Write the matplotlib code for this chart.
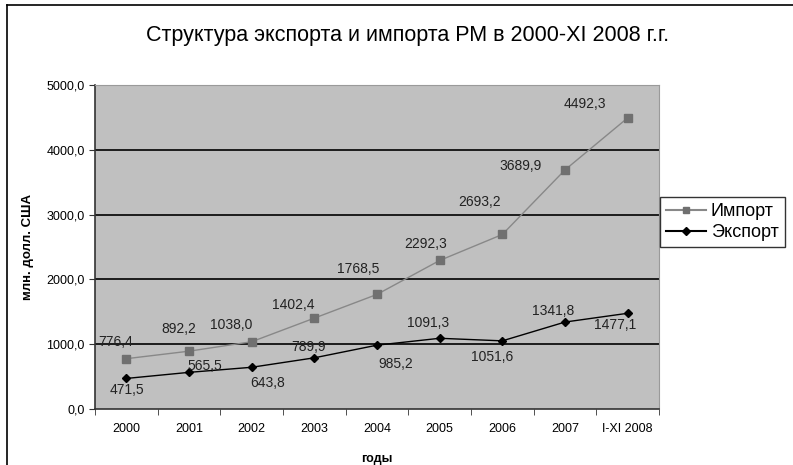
import matplotlib.pyplot as plt
from matplotlib.lines import Line2D

plt.rcParams["font.family"] = ["Liberation Sans", "DejaVu Sans"]

# ==========================================================
# Data
# ==========================================================

years = ["2000", "2001", "2002", "2003", "2004", "2005", "2006", "2007", "I-XI 2008"]
imports = [776.4, 892.2, 1038.0, 1402.4, 1768.5, 2292.3, 2693.2, 3689.9, 4492.3]
exports = [471.5, 565.5, 643.8, 789.9, 985.2, 1091.3, 1051.6, 1341.8, 1477.1]

# label offsets (pixels) for the data labels
import_offsets = [(-11, 17), (-10, 22), (-20, 17), (-21, 13), (-19, 25),
                  (-14, 16), (-23, 32), (-44, 4), (-43, 14)]
export_offsets = [(1, -12), (16, 6), (16, -16), (-6, 11), (19, -19),
                  (-12, 15), (-10, -16), (-12, 11), (-13, -12)]

# ==========================================================
# Figure
# ==========================================================

fig = plt.figure(figsize=(7.93, 4.65), dpi=100)
ax = fig.add_axes([95 / 793, 1 - 409 / 465, 564 / 793, 324 / 465])
ax.set_facecolor("#c0c0c0")

x = list(range(len(years)))
ax.plot(x, imports, color="#888888", lw=1.0, marker="s", ms=6,
        mfc="#707070", mec="#707070", zorder=3)
ax.plot(x, exports, color="black", lw=1.0, marker="D", ms=4.5,
        mfc="black", mec="black", zorder=3)

for i, v in enumerate(imports):
    ax.annotate(f"{v:.1f}".replace(".", ","), (i, v), xytext=import_offsets[i],
                textcoords="offset pixels", ha="center", va="center",
                fontsize=10, color="#222222", zorder=4)
for i, v in enumerate(exports):
    ax.annotate(f"{v:.1f}".replace(".", ","), (i, v), xytext=export_offsets[i],
                textcoords="offset pixels", ha="center", va="center",
                fontsize=10, color="#222222", zorder=4)

ax.set_xlim(-0.5, len(years) - 0.5)
ax.set_ylim(0, 5000)

yticks = [0, 1000, 2000, 3000, 4000, 5000]
ax.set_yticks(yticks)
ax.set_yticklabels([f"{t:.1f}".replace(".", ",") for t in yticks], fontsize=9)
for t in yticks[1:-1]:
    ax.axhline(t, color="black", lw=1.2, zorder=1)

ax.set_xticks(x)
ax.set_xticklabels(years, fontsize=9)
ax.tick_params(axis="x", length=0, pad=10)
ax.set_xticks([i + 0.5 for i in range(-1, len(years))], minor=True)
ax.tick_params(axis="x", which="minor", length=4, direction="out", color="#333333")
ax.tick_params(axis="y", length=4, direction="out", color="#333333")

for side in ["left", "bottom"]:
    ax.spines[side].set_color("#333333")
    ax.spines[side].set_linewidth(1.2)
for side in ["top", "right"]:
    ax.spines[side].set_color("#9a9a9a")

ax.set_ylabel("млн. долл. США", fontsize=9.5, fontweight="bold", labelpad=9)
ax.set_xlabel("годы", fontsize=9, fontweight="bold", labelpad=13)

fig.text(408 / 793, 1 - 35 / 465, "Структура экспорта и импорта РМ в 2000-XI 2008 г.г.",
         ha="center", va="center", fontsize=15.5)

handles = [
    Line2D([], [], color="#888888", marker="s", ms=5, mfc="#707070", mec="#707070"),
    Line2D([], [], color="black", marker="D", ms=4, mfc="black"),
]
leg = fig.legend(handles, ["Импорт", "Экспорт"], loc="upper left",
                 bbox_to_anchor=(660 / 793, 1 - 197 / 465), fontsize=13,
                 frameon=True, fancybox=False, edgecolor="black",
                 handlelength=2.2, handletextpad=0.25, borderpad=0.35,
                 labelspacing=0.2, borderaxespad=0)
leg.get_frame().set_linewidth(1.0)

# outer chart frame (left and top edges)
fig.add_artist(Line2D([7 / 793, 7 / 793], [0, 1 - 5 / 465], color="black", lw=1.2))
fig.add_artist(Line2D([7 / 793, 1], [1 - 5 / 465, 1 - 5 / 465], color="black", lw=1.2))

fig.savefig("out.png", dpi=100)
